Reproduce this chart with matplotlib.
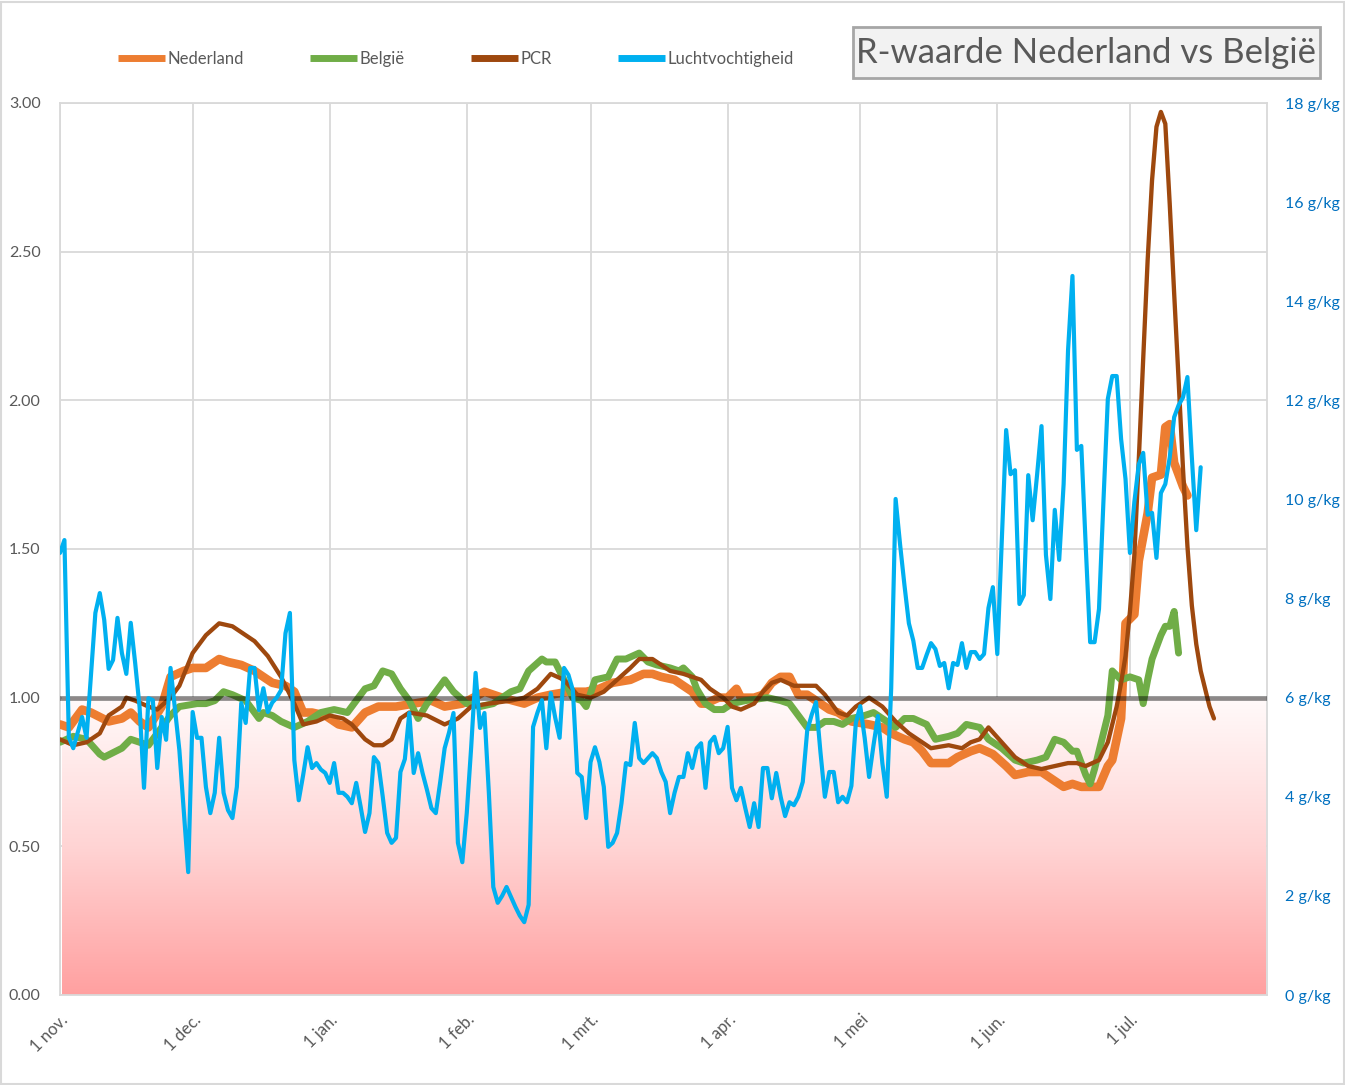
import numpy as np
import matplotlib
matplotlib.use("Agg")
import matplotlib.pyplot as plt
import matplotlib.dates as mdates
import matplotlib.transforms as mtransforms
from matplotlib.colors import LinearSegmentedColormap
from matplotlib.lines import Line2D
from matplotlib.patches import Rectangle

plt.rcParams['font.family'] = ['Lato', 'DejaVu Sans']

START = np.datetime64('2020-11-01')
END = np.datetime64('2021-08-01')

# ---- data (day offsets from 1 nov 2020) ----
nl_day = [0, 2, 5, 7, 11, 14, 16, 18, 20, 23,
          25, 28, 30, 33, 35, 36, 38, 41, 44, 46,
          48, 51, 53, 55, 57, 60, 63, 66, 69, 72,
          76, 80, 84, 87, 91, 96, 100, 105, 108, 111,
          115, 119, 122, 125, 129, 132, 134, 136, 139, 141,
          143, 145, 146, 149, 151, 153, 154, 157, 159, 161,
          163, 165, 167, 169, 171, 174, 176, 179, 183, 186,
          188, 191, 193, 195, 197, 201, 203, 206, 208, 211,
          214, 216, 219, 222, 225, 227, 229, 231, 235, 237,
          238, 240, 241, 243, 244, 246, 247, 249, 250, 251,
          252, 254, 255]
nl_r = [0.91, 0.90, 0.96, 0.95, 0.92, 0.93, 0.95, 0.92, 0.90, 0.97,
        1.07, 1.09, 1.10, 1.10, 1.12, 1.13, 1.12, 1.11, 1.09, 1.07,
        1.05, 1.04, 1.02, 0.95, 0.95, 0.94, 0.91, 0.90, 0.95, 0.97,
        0.97, 0.98, 0.99, 0.97, 0.98, 1.02, 1.00, 0.98, 1.00, 1.01,
        1.02, 1.02, 1.03, 1.05, 1.06, 1.08, 1.08, 1.07, 1.06, 1.04,
        1.02, 0.98, 0.98, 1.00, 1.00, 1.03, 1.00, 1.00, 1.01, 1.05,
        1.07, 1.07, 1.01, 1.01, 0.99, 0.96, 0.95, 0.92, 0.91, 0.90,
        0.88, 0.86, 0.85, 0.82, 0.78, 0.78, 0.80, 0.82, 0.83, 0.81,
        0.77, 0.74, 0.75, 0.75, 0.72, 0.70, 0.71, 0.70, 0.70, 0.77,
        0.79, 0.93, 1.25, 1.28, 1.46, 1.62, 1.74, 1.75, 1.91, 1.92,
        1.79, 1.71, 1.68]

be_day = [0, 3, 6, 9, 10, 14, 16, 20, 22, 25,
          27, 31, 33, 35, 37, 39, 42, 45, 46, 48,
          50, 53, 56, 59, 62, 65, 67, 69, 71, 73,
          75, 77, 79, 81, 83, 85, 87, 89, 92, 95,
          98, 102, 104, 106, 109, 110, 112, 114, 116, 118,
          119, 121, 124, 126, 128, 131, 133, 135, 138, 140,
          141, 143, 144, 146, 148, 150, 152, 155, 160, 163,
          165, 167, 169, 171, 173, 175, 177, 179, 182, 184,
          187, 189, 191, 193, 196, 198, 201, 203, 205, 208,
          210, 213, 216, 218, 221, 223, 225, 227, 229, 230,
          232, 233, 234, 235, 237, 238, 240, 242, 244, 245,
          246, 247, 249, 250, 251, 252, 253]
be_r = [0.85, 0.87, 0.86, 0.81, 0.80, 0.83, 0.86, 0.84, 0.88, 0.94,
        0.97, 0.98, 0.98, 0.99, 1.02, 1.01, 0.99, 0.93, 0.95, 0.94,
        0.92, 0.90, 0.92, 0.95, 0.96, 0.95, 0.99, 1.03, 1.04, 1.09,
        1.08, 1.03, 0.99, 0.93, 0.98, 1.02, 1.06, 1.02, 0.98, 0.97,
        0.98, 1.02, 1.03, 1.09, 1.13, 1.12, 1.12, 1.06, 1.00, 0.99,
        0.97, 1.06, 1.07, 1.13, 1.13, 1.15, 1.12, 1.11, 1.10, 1.09,
        1.10, 1.07, 1.03, 0.98, 0.96, 0.96, 0.98, 0.99, 1.00, 0.99,
        0.98, 0.94, 0.90, 0.90, 0.92, 0.92, 0.91, 0.93, 0.94, 0.95,
        0.92, 0.90, 0.93, 0.93, 0.91, 0.86, 0.87, 0.88, 0.91, 0.90,
        0.86, 0.83, 0.79, 0.78, 0.79, 0.80, 0.86, 0.85, 0.82, 0.82,
        0.74, 0.71, 0.76, 0.82, 0.94, 1.09, 1.06, 1.07, 1.06, 0.98,
        1.06, 1.13, 1.21, 1.24, 1.24, 1.29, 1.15]

pcr_day = [0, 3, 6, 9, 11, 14, 15, 17, 20, 22,
           25, 27, 30, 33, 36, 39, 41, 44, 47, 50,
           53, 55, 58, 61, 64, 66, 69, 71, 73, 75,
           77, 79, 83, 87, 90, 93, 97, 102, 105, 108,
           111, 114, 117, 120, 123, 126, 129, 131, 134, 136,
           138, 141, 143, 145, 147, 150, 152, 154, 157, 159,
           161, 163, 166, 169, 171, 173, 176, 178, 180, 183,
           186, 189, 192, 195, 197, 201, 204, 206, 208, 210,
           213, 216, 219, 222, 225, 228, 230, 232, 235, 237,
           238, 239, 240, 241, 242, 243, 244, 245, 246, 247,
           248, 249, 250, 251, 252, 253, 254, 255, 256, 257,
           258, 259, 260, 261]
pcr_r = [0.86, 0.84, 0.85, 0.88, 0.94, 0.97, 1.00, 0.99, 0.97, 0.96,
         1.00, 1.04, 1.15, 1.21, 1.25, 1.24, 1.22, 1.19, 1.14, 1.07,
         0.98, 0.91, 0.92, 0.94, 0.93, 0.91, 0.86, 0.84, 0.84, 0.86,
         0.93, 0.95, 0.94, 0.91, 0.93, 0.97, 0.98, 0.99, 1.00, 1.03,
         1.08, 1.06, 1.01, 1.00, 1.02, 1.06, 1.10, 1.13, 1.13, 1.11,
         1.09, 1.08, 1.07, 1.06, 1.03, 1.00, 0.97, 0.96, 0.98, 1.02,
         1.05, 1.06, 1.04, 1.04, 1.04, 1.01, 0.95, 0.94, 0.97, 1.00,
         0.97, 0.92, 0.88, 0.85, 0.83, 0.84, 0.83, 0.85, 0.86, 0.90,
         0.85, 0.80, 0.77, 0.76, 0.77, 0.78, 0.78, 0.77, 0.79, 0.85,
         0.91, 0.97, 1.05, 1.14, 1.29, 1.48, 1.80, 2.14, 2.47, 2.74,
         2.92, 2.97, 2.93, 2.66, 2.36, 2.07, 1.77, 1.51, 1.31, 1.18,
         1.09, 1.03, 0.97, 0.93]

hum_day = [0, 1, 2, 3, 5, 6, 8, 9, 10, 11, 12, 13, 14, 15, 16, 17, 18, 19, 20, 21,
           22, 23, 24, 25, 27, 29, 30, 31, 32, 33, 34, 35, 36, 37, 38, 39, 40, 41, 42, 43,
           44, 45, 46, 47, 48, 49, 50, 51, 52, 53, 54, 55, 56, 57, 58, 59, 60, 61, 62, 63,
           64, 65, 66, 67, 68, 69, 70, 71, 72, 73, 74, 75, 76, 77, 78, 79, 80, 81, 82, 83,
           84, 85, 86, 87, 88, 89, 90, 91, 92, 93, 94, 95, 96, 97, 98, 99, 100, 101, 102, 103,
           104, 105, 106, 107, 108, 109, 110, 111, 112, 113, 114, 115, 116, 117, 118, 119, 120, 121, 122, 123,
           124, 125, 126, 127, 128, 129, 130, 131, 132, 133, 134, 135, 136, 137, 138, 139, 140, 141, 142, 143,
           144, 145, 146, 147, 148, 149, 150, 151, 152, 153, 154, 155, 156, 157, 158, 159, 160, 161, 162, 163,
           164, 165, 166, 167, 168, 169, 170, 171, 172, 173, 174, 175, 176, 177, 178, 179, 180, 181, 182, 183,
           184, 185, 186, 187, 188, 189, 190, 191, 192, 193, 194, 195, 196, 197, 198, 199, 200, 201, 202, 203,
           204, 205, 206, 207, 208, 209, 210, 211, 212, 214, 215, 216, 217, 218, 219, 220, 221, 222, 223, 224,
           225, 226, 227, 228, 229, 230, 231, 232, 233, 234, 235, 236, 237, 238, 239, 240, 241, 242, 243, 244,
           245, 246, 247, 248, 249, 250, 251, 252, 253, 254, 255, 256, 257, 258]
hum_gkg = [8.92, 9.18, 5.20, 4.98, 5.61, 5.19, 7.71, 8.11, 7.57, 6.58, 6.76, 7.61, 6.90, 6.48, 7.51, 6.70, 5.81, 4.18, 5.99, 5.95,
           4.58, 5.61, 5.15, 6.60, 4.94, 2.48, 5.71, 5.19, 5.19, 4.20, 3.67, 4.08, 5.19, 4.08, 3.73, 3.57, 4.20, 5.89, 5.49, 6.60,
           6.60, 5.75, 6.19, 5.71, 5.90, 6.00, 6.15, 7.30, 7.71, 4.74, 3.93, 4.44, 5.00, 4.58, 4.68, 4.55, 4.48, 4.28, 4.68, 4.08,
           4.08, 4.00, 3.87, 4.28, 3.80, 3.29, 3.67, 4.80, 4.68, 4.00, 3.27, 3.07, 3.17, 4.50, 4.76, 5.69, 4.48, 4.88, 4.48, 4.14,
           3.77, 3.67, 4.30, 4.98, 5.30, 5.69, 3.07, 2.68, 3.67, 5.00, 6.50, 5.39, 5.69, 4.08, 2.18, 1.86, 2.00, 2.18, 1.98, 1.78,
           1.60, 1.47, 1.82, 5.41, 5.70, 5.95, 4.98, 6.09, 5.60, 5.19, 6.60, 6.46, 6.15, 4.48, 4.40, 3.57, 4.70, 5.00, 4.70, 4.20,
           2.99, 3.07, 3.27, 3.87, 4.68, 4.64, 5.49, 4.78, 4.68, 4.78, 4.88, 4.78, 4.50, 4.30, 3.67, 4.08, 4.40, 4.40, 4.88, 4.58,
           4.98, 5.08, 4.18, 5.10, 5.21, 4.88, 4.98, 5.41, 4.18, 3.93, 4.18, 3.77, 3.39, 3.87, 3.39, 4.58, 4.58, 3.97, 4.48, 4.00,
           3.61, 3.89, 3.83, 4.00, 4.30, 5.33, 5.65, 5.91, 4.90, 4.00, 4.50, 4.50, 3.89, 4.00, 3.89, 4.22, 5.49, 5.83, 5.19, 4.40,
           5.04, 5.63, 4.68, 4.00, 6.19, 10.01, 9.10, 8.27, 7.50, 7.15, 6.60, 6.60, 6.86, 7.10, 6.98, 6.64, 6.70, 6.19, 6.70, 6.66,
           7.10, 6.60, 6.92, 6.92, 6.78, 6.88, 7.81, 8.23, 6.88, 11.40, 10.51, 10.59, 7.89, 8.07, 10.49, 9.58, 10.50, 11.48, 8.88, 7.99,
           9.79, 8.78, 10.31, 13.01, 14.51, 11.00, 11.08, 9.06, 7.12, 7.12, 7.79, 9.95, 12.03, 12.49, 12.49, 11.22, 10.41, 8.92, 9.95, 10.71,
           10.94, 9.69, 9.73, 8.82, 10.13, 10.31, 10.85, 11.66, 11.90, 12.06, 12.47, 10.85, 9.38, 10.65]

month_ticks = ['2020-11-01', '2020-12-01', '2021-01-01', '2021-02-01', '2021-03-01',
               '2021-04-01', '2021-05-01', '2021-06-01', '2021-07-01']
month_labels = ['1 nov.', '1 dec.', '1 jan.', '1 feb.', '1 mrt.', '1 apr.', '1 mei', '1 jun.', '1 jul.']
r_ticks = [0.0, 0.5, 1.0, 1.5, 2.0, 2.5, 3.0]
h_ticks = [0, 2, 4, 6, 8, 10, 12, 14, 16, 18]

series_names = ['Nederland', 'België', 'PCR', 'Luchtvochtigheid']
series_colors = ['#ED7D31', '#70AD47', '#9E480E', '#00B0F0']
title = 'R-waarde Nederland vs België'


def to_dates(days):
    return START + np.array(days, dtype='timedelta64[D]')


W, H = 1345, 1085
fig = plt.figure(figsize=(W / 100, H / 100), dpi=100)
ax = fig.add_axes([60 / W, 1 - 995 / H, (1267 - 60) / W, (995 - 103) / H])

ax.plot(to_dates(nl_day), nl_r, color=series_colors[0], lw=6.2, zorder=3,
        solid_joinstyle='round', solid_capstyle='round')
ax.plot(to_dates(be_day), be_r, color=series_colors[1], lw=5.0, zorder=4,
        solid_joinstyle='round', solid_capstyle='round')
ax.plot(to_dates(pcr_day), pcr_r, color=series_colors[2], lw=3.1, zorder=5,
        solid_joinstyle='round', solid_capstyle='round')
ax.axhline(1.0, color='black', alpha=0.45, lw=3.4, zorder=6)

# gradient fill below R = 1
x0 = mdates.date2num(START)
x1 = mdates.date2num(END)
grad_cmap = LinearSegmentedColormap.from_list('rfill', ['#FFA0A0', '#FFD4D4', '#FFFAFA'])
grad = np.linspace(0, 1, 256).reshape(-1, 1)
ax.imshow(grad, extent=[x0 + 0.4, x1 - 0.4, 0, 1], origin='lower', aspect='auto',
          cmap=grad_cmap, zorder=1, interpolation='bilinear')

ax.set_xlim(START, END)
ax.set_ylim(0, 3.0)
ax.set_yticks(r_ticks)
ax.set_yticklabels([f'{v:.2f}' for v in r_ticks])
ax.set_xticks(np.array(month_ticks, dtype='datetime64[D]'))
ax.set_xticklabels(month_labels, rotation=45, ha='right', va='top', rotation_mode='anchor')
offset = mtransforms.ScaledTranslation(11 / 100, 0, fig.dpi_scale_trans)
for lab in ax.get_xticklabels():
    lab.set_transform(lab.get_transform() + offset)

ax.set_axisbelow(True)
ax.grid(True, color='#D9D9D9', lw=1.3)
for s in ax.spines.values():
    s.set_color('#D9D9D9')
    s.set_linewidth(1.3)
ax.tick_params(axis='y', length=0, pad=14, labelsize=11.5, labelcolor='#595959')
ax.tick_params(axis='x', length=0, pad=12, labelsize=12, labelcolor='#595959')

ax2 = ax.twinx()
ax2.plot(to_dates(hum_day), hum_gkg, color=series_colors[3], lw=3.0, zorder=7,
         solid_joinstyle='round', solid_capstyle='round')
ax2.set_ylim(0, 18)
ax2.set_yticks(h_ticks)
ax2.set_yticklabels([f'{v} g/kg' for v in h_ticks])
ax2.tick_params(axis='y', length=0, pad=13, labelsize=11.5, labelcolor='#0070C0')
for s in ax2.spines.values():
    s.set_visible(False)
ax2.set_xlim(START, END)

# legend
handles = [Line2D([], [], color=c, lw=5, solid_capstyle='butt') for c in series_colors]
fig.legend(handles, series_names, loc='center', bbox_to_anchor=(456 / W, 1 - 59 / H),
           ncol=4, frameon=False, fontsize=12, handlelength=2.8, handletextpad=0.15,
           columnspacing=4.0, labelcolor='#595959')

# title box
fig.patches.append(Rectangle((853 / W, 1 - 78 / H), (1320 - 853) / W, 51 / H,
                             transform=fig.transFigure, facecolor='#F2F2F2',
                             edgecolor='#A6A6A6', lw=2, zorder=1))
fig.text(1086 / W, 1 - 53 / H, title, ha='center', va='center', fontsize=25,
         color='#595959', zorder=2)

# chart border
fig.patches.append(Rectangle((0.001, 0.001), 0.998, 0.997, transform=fig.transFigure,
                             fill=False, edgecolor='#D9D9D9', lw=1.5))

fig.savefig('out.png', dpi=100)
